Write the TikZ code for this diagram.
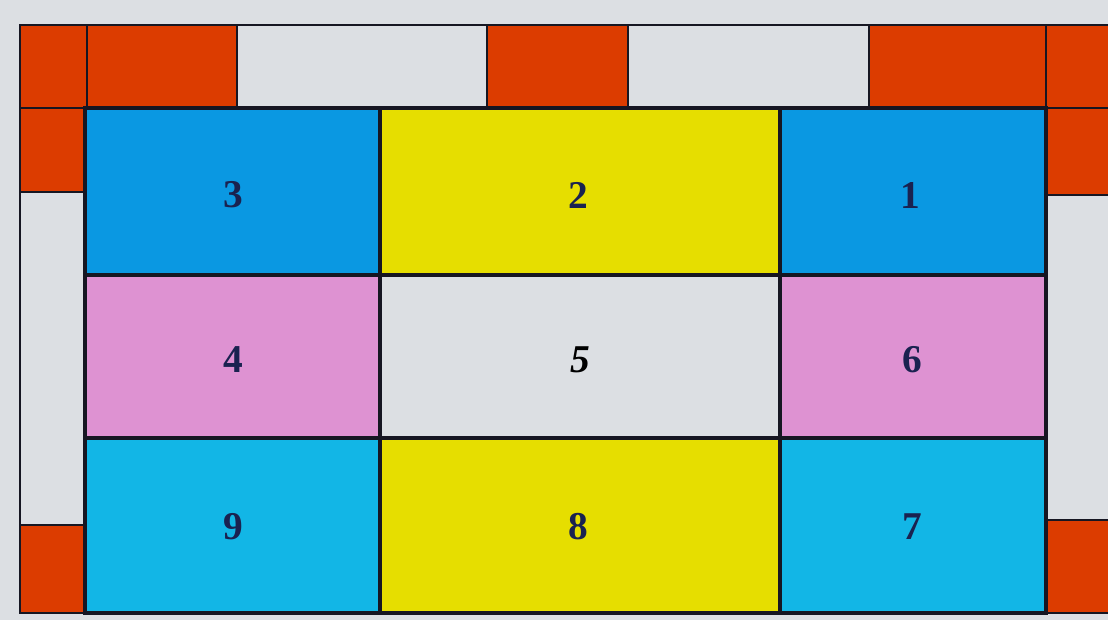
\documentclass[tikz,border=0pt]{standalone}
\usepackage{fontspec}
\setmainfont{Liberation Serif}
\definecolor{screen}{HTML}{DCDFE3}
\definecolor{brick}{HTML}{DC3C00}
\definecolor{sky}{HTML}{0A98E2}
\definecolor{lemon}{HTML}{E6DE00}
\definecolor{orchid}{HTML}{DE92D2}
\definecolor{aqua}{HTML}{12B6E6}
\definecolor{ink}{HTML}{1A2250}
\definecolor{edge}{HTML}{161622}
\tikzset{
  tile/.style={draw=edge, line width=2pt},
  field/.style={draw=edge, line width=2.6pt},
  num/.style={text=ink, font=\fontsize{28}{28}\selectfont\bfseries}
}
\begin{document}
\begin{tikzpicture}[x=0.025cm,y=-0.025cm]
\useasboundingbox (0,0) rectangle (1108,620);
\clip (0,0) rectangle (1108,620);
\fill[screen] (0,0) rectangle (1108,620);

% top border
\draw[tile, fill=brick] (20,25) rectangle (87,108);
\draw[tile, fill=brick] (87,25) rectangle (237,108);
\draw[tile, fill=screen] (237,25) rectangle (487,108);
\draw[tile, fill=brick] (487,25) rectangle (628,108);
\draw[tile, fill=screen] (628,25) rectangle (869,108);
\draw[tile, fill=brick] (869,25) rectangle (1046,108);
\draw[tile, fill=brick] (1046,25) rectangle (1112,108);

% left border
\draw[tile, fill=brick] (20,108) rectangle (85,192);
\draw[tile, fill=screen] (20,192) rectangle (85,525);
\draw[tile, fill=brick] (20,525) rectangle (85,613);

% right border
\draw[tile, fill=brick] (1046,108) rectangle (1112,195);
\draw[tile, fill=screen] (1046,195) rectangle (1112,520);
\draw[tile, fill=brick] (1046,520) rectangle (1112,613);

% playing field
\draw[field, fill=sky] (85,108) rectangle (380,275);
\node[num] (n3) at (233,195) {3};
\draw[field, fill=lemon] (380,108) rectangle (780,275);
\node[num] (n2) at (578,195) {2};
\draw[field, fill=sky] (780,108) rectangle (1046,275);
\node[num] (n1) at (910,195) {1};

\draw[field, fill=orchid] (85,275) rectangle (380,438);
\node[num] (n4) at (233,360) {4};
\draw[field, fill=screen] (380,275) rectangle (780,438);
\node[num, text=black] (n5) at (580,360) {\itshape 5};
\draw[field, fill=orchid] (780,275) rectangle (1046,438);
\node[num] (n6) at (912,360) {6};

\draw[field, fill=aqua] (85,438) rectangle (380,613);
\node[num] (n9) at (233,527) {9};
\draw[field, fill=lemon] (380,438) rectangle (780,613);
\node[num] (n8) at (578,527) {8};
\draw[field, fill=aqua] (780,438) rectangle (1046,613);
\node[num] (n7) at (912,527) {7};
\end{tikzpicture}
\end{document}
